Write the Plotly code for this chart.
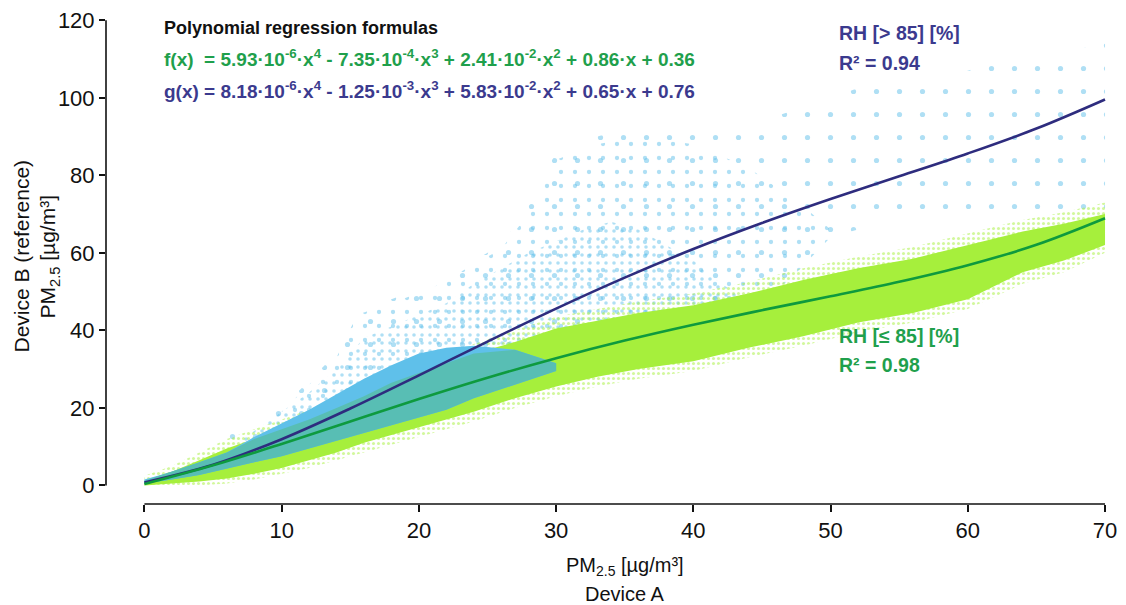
import plotly.graph_objects as go

# ---------------- data ----------------
x_ticks = [0, 10, 20, 30, 40, 50, 60, 70]
y_ticks = [0, 20, 40, 60, 80, 100, 120]

# regression curves, values
curve_x = [0, 5, 10, 15, 20, 25, 30, 35, 40, 45, 50, 55, 60, 65, 70]
f_vals = [0.36, 5.17, 10.69, 16.50, 22.27, 27.76, 32.81, 37.37, 41.46, 45.20, 48.80, 52.53, 56.81, 62.08, 68.93]
g_vals = [0.76, 5.32, 11.92, 19.83, 28.39, 37.11, 45.61, 53.61, 60.98, 67.70, 73.89, 79.75, 85.65, 92.07, 99.58]

# point-cloud envelopes (common x grid)
cloud_x = [0, 2, 4, 6, 8, 10, 12, 14, 16, 18, 20, 22, 24, 27, 30, 33, 36, 40, 44, 48, 52, 56, 60, 64, 67, 70]
# RH <= 85 : dense band
green_up = [1.2, 3.5, 6.5, 9.5, 12, 14.5, 17, 20, 23, 26.5, 29, 31.5, 34, 37, 40.5, 42.5, 44.5, 46.5, 49.5, 53, 56, 58.5, 62, 65.5, 67.5, 70]
green_lo = [0, 0.5, 1, 1.8, 3, 4.5, 6.5, 8.5, 11, 13, 15, 17, 19, 22.5, 25.5, 28, 30, 32, 35.5, 38.5, 42, 44.5, 48, 55, 58, 62]
# RH <= 85 : scattered fringe
green_fr_up = [2.5, 5, 8.5, 12, 14.5, 17, 19.5, 22.5, 25.5, 29, 31.5, 34, 36.5, 40, 43.5, 45.5, 47.5, 49.5, 52.5, 56, 59, 61.5, 65, 68.5, 70.5, 73]
green_fr_lo = [0, 0, 0, 0.5, 1.5, 3, 4.5, 6.5, 8.5, 10.5, 12.5, 14.5, 16.5, 20, 23, 25.5, 27.5, 29.5, 33, 36, 39.5, 42, 45.5, 52, 55, 60]
# RH > 85 : dense core (first 15 grid positions, x 0..30)
blue_up = [1.5, 3.5, 6, 8.5, 12.5, 16, 19.5, 23.5, 27.5, 31, 34, 35.5, 36, 35, 31.5]
blue_lo = [0.5, 1.5, 2.7, 4.3, 6, 7.5, 9.5, 11.5, 13.5, 15.5, 17.5, 19.5, 22.5, 26, 29.5]

# RH > 85 : medium-density scatter
blue_mid_up_x = [6, 8, 10, 12, 14, 16, 18, 20, 22, 24, 26, 28, 30, 32, 34, 36, 38, 40, 42, 44]
blue_mid_up = [9, 14, 19, 24, 30, 38, 41, 44, 47, 52, 56, 60, 63, 66, 68, 66, 62, 58, 52, 48]
blue_mid_lo_x = [44, 42, 40, 38, 35, 32, 28, 24, 20, 16, 12, 8, 6]
blue_mid_lo = [46, 42, 36, 33, 31, 29, 27, 22.5, 17.5, 13.5, 9.5, 6, 4.5]

# RH > 85 : thinner scatter
blue_thin_up_x = [10, 12, 14, 15.5, 18, 21, 24, 26, 28, 30, 33, 36, 40, 44, 48, 50]
blue_thin_up = [19, 26, 33, 44, 47, 51, 57, 61, 70, 84, 88, 90, 88, 82, 72, 66]
blue_thin_lo_x = [50, 47, 44, 41, 38, 34, 30, 25, 20, 15, 10]
blue_thin_lo = [64, 53, 46, 34, 32, 30, 28, 23, 18, 13, 8]

# RH > 85 : sparse outliers
blue_sp_up_x = [4, 7, 10, 12, 14, 15.5, 18, 21, 24, 26, 28, 30, 33, 36, 40, 45, 50, 54, 58, 62, 66, 70]
blue_sp_up = [6, 16, 20, 27, 34, 45, 48, 52, 58, 62, 72, 86, 90, 93, 92, 94, 100, 105, 105, 109, 111, 114]
blue_sp_lo_x = [70, 66, 62, 58, 54, 50, 47, 44, 41, 38, 34, 30, 25, 20, 15, 10, 4]
blue_sp_lo = [71.5, 71, 70, 71, 68, 64, 53, 46, 34, 32, 30, 28, 23, 18, 13, 8, 3]

# ---------------- styling ----------------
C_BLUE_PT = "#5FC0EA"
C_GREEN_PT = "#A6EF3C"
C_TEAL = "#58BEB4"
C_NAVY = "#2E2C7E"
C_GREEN_LN = "#0E9A3E"
C_GREEN_TX = "#1FA04C"
C_BLUE_TX = "#3B3A8E"
FONT = "Arial, Liberation Sans, Helvetica, sans-serif"

W, H = 1126, 605
ML, MR, MT, MB = 106, 10, 8, 101
XR = [-2.8, 70.8]
YR = [-4.8, 122.4]


def poly(xs_up, ys_up, xs_lo, ys_lo):
    return list(xs_up) + list(xs_lo), list(ys_up) + list(ys_lo)


fig = go.Figure()


def add_region(px, py, fillcolor=None, pattern=None):
    kw = dict(x=px, y=py, mode="lines", fill="toself", line=dict(width=0),
              hoverinfo="skip", showlegend=False, fillcolor=fillcolor)
    if pattern is not None:
        kw["fillpattern"] = pattern
    fig.add_trace(go.Scatter(**kw))


def dots(color, size, solidity):
    return dict(shape=".", fgcolor=color, bgcolor="rgba(0,0,0,0)", size=size,
                solidity=solidity, fillmode="overlay")


# sparse blue outliers
px, py = poly(blue_sp_up_x, blue_sp_up, blue_sp_lo_x, blue_sp_lo)
add_region(px, py, fillcolor="rgba(0,0,0,0)", pattern=dots(C_BLUE_PT, 23, 0.04))
# thinner blue scatter (white base hides the coarser lattice below)
px, py = poly(blue_thin_up_x, blue_thin_up, blue_thin_lo_x, blue_thin_lo)
add_region(px, py, fillcolor="white", pattern=dots(C_BLUE_PT, 14, 0.075))
# medium-density blue scatter
px, py = poly(blue_mid_up_x, blue_mid_up, blue_mid_lo_x, blue_mid_lo)
add_region(px, py, fillcolor="white", pattern=dots(C_BLUE_PT, 8, 0.16))
# green fringe
px, py = poly(cloud_x, green_fr_up, cloud_x[::-1], green_fr_lo[::-1])
add_region(px, py, fillcolor="rgba(0,0,0,0)", pattern=dots(C_GREEN_PT, 5, 0.3))
# green dense band
px, py = poly(cloud_x, green_up, cloud_x[::-1], green_lo[::-1])
add_region(px, py, fillcolor=C_GREEN_PT)
# blue dense core
nb = len(blue_up)
bx = cloud_x[:nb]
px, py = poly(bx, blue_up, bx[::-1], blue_lo[::-1])
add_region(px, py, fillcolor=C_BLUE_PT)
# overlap of both dense clouds
t_up = [min(a, b) for a, b in zip(blue_up, green_up[:nb])]
t_lo = [max(a, b) for a, b in zip(blue_lo, green_lo[:nb])]
t_up = [max(u, l) for u, l in zip(t_up, t_lo)]
px, py = poly(bx, t_up, bx[::-1], t_lo[::-1])
add_region(px, py, fillcolor=C_TEAL)

# regression curves
fig.add_trace(go.Scatter(x=curve_x, y=g_vals, mode="lines", line=dict(color=C_NAVY, width=2.6, shape="spline"),
                         hoverinfo="skip", showlegend=False))
fig.add_trace(go.Scatter(x=curve_x, y=f_vals, mode="lines", line=dict(color=C_GREEN_LN, width=2.6, shape="spline"),
                         hoverinfo="skip", showlegend=False))

plot_h = H - MT - MB
plot_w = W - ML - MR


def py2paper(pix):
    return (H - MB - pix) / plot_h


def px2paper(pix):
    return (pix - ML) / plot_w


def ann(text, x, y, color, size, xref="x", xanchor="left", angle=0):
    return dict(text=text, x=x, y=y, xref=xref, yref="paper", xanchor=xanchor, yanchor="middle",
                showarrow=False, textangle=angle, font=dict(family=FONT, size=size, color=color))


ann_objs = [
    ann("<b>Polynomial regression formulas</b>", 1.3, py2paper(25), "#111111", 18),
    ann("<b>f(x)  = 5.93·10<sup>-6</sup>·x<sup>4</sup> - 7.35·10<sup>-4</sup>·x<sup>3</sup> + 2.41·10<sup>-2</sup>·x<sup>2</sup> + 0.86·x + 0.36</b>",
        1.3, py2paper(55), C_GREEN_TX, 19),
    ann("<b>g(x) = 8.18·10<sup>-6</sup>·x<sup>4</sup> - 1.25·10<sup>-3</sup>·x<sup>3</sup> + 5.83·10<sup>-2</sup>·x<sup>2</sup> + 0.65·x + 0.76</b>",
        1.3, py2paper(87), C_BLUE_TX, 19),
    ann("<b>RH [> 85] [%]</b>", 50.5, py2paper(30), C_BLUE_TX, 19.5),
    ann("<b>R² = 0.94</b>", 50.5, py2paper(60), C_BLUE_TX, 19.5),
    ann("<b>RH [≤ 85] [%]</b>", 50.5, py2paper(335), C_GREEN_TX, 19.5),
    ann("<b>R² = 0.98</b>", 50.5, py2paper(364), C_GREEN_TX, 19.5),
    # axis titles
    ann("PM<sub>2.5</sub> [µg/m³]", 35, py2paper(567), "#111111", 20, xanchor="center"),
    ann("Device A", 35, py2paper(595), "#111111", 20, xanchor="center"),
    ann("Device B (reference)", px2paper(22), py2paper(255), "#111111", 21, xref="paper", xanchor="center", angle=-90),
    ann("PM<sub>2.5</sub> [µg/m³]", px2paper(49), py2paper(255), "#111111", 21, xref="paper", xanchor="center", angle=-90),
]

shapes = [
    dict(type="line", xref="x", yref="paper", x0=0, x1=70, y0=0, y1=0, line=dict(color="#111111", width=1.6)),
    dict(type="line", xref="paper", yref="y", x0=0, x1=0, y0=0, y1=120, line=dict(color="#111111", width=1.6)),
]

fig.update_layout(
    width=W, height=H,
    margin=dict(l=ML, r=MR, t=MT, b=MB),
    paper_bgcolor="white", plot_bgcolor="white",
    font=dict(family=FONT, size=20, color="#111111"),
    annotations=ann_objs,
    shapes=shapes,
    showlegend=False,
)
fig.update_xaxes(range=XR, tickvals=x_ticks, ticktext=[str(v) for v in x_ticks], showgrid=False, zeroline=False,
                 showline=False, ticks="outside", ticklen=7, tickwidth=1.6, tickcolor="#111111",
                 tickfont=dict(family=FONT, size=22, color="#111111"))
fig.update_yaxes(range=YR, tickvals=y_ticks, ticktext=[str(v) for v in y_ticks], showgrid=False, zeroline=False,
                 showline=False, ticks="outside", ticklen=6, tickwidth=1.6, tickcolor="#111111",
                 tickfont=dict(family=FONT, size=22, color="#111111"), ticklabeloverflow="allow")

# remove the default 8 px page margin so the figure fills the window exactly
fig.write_html("out.html", config={"displayModeBar": False},
               post_script="document.body.style.margin='0px';")
